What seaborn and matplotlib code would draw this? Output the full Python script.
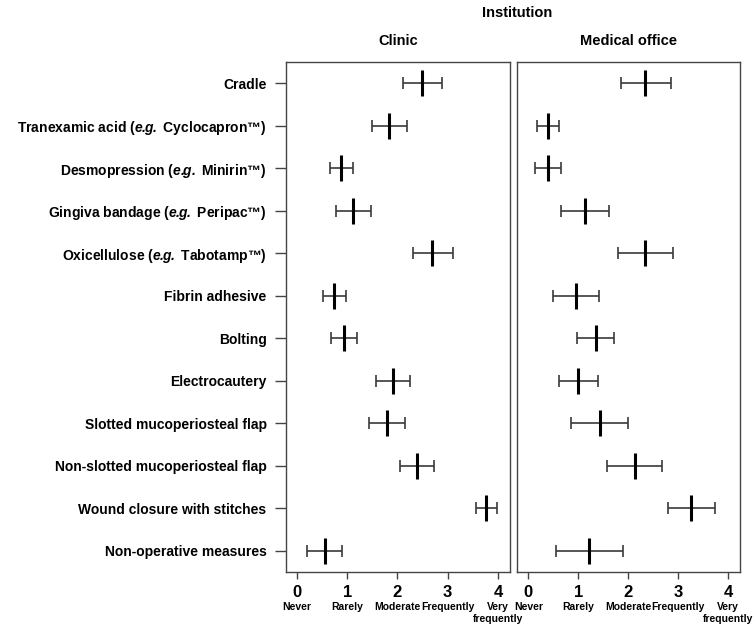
import matplotlib
matplotlib.use("Agg")
import matplotlib.pyplot as plt
import seaborn as sns
import pandas as pd
import numpy as np

# Data (mean and interval per measure)
measures = [
    "Cradle",
    r"Tranexamic acid ($\mathbfit{e.\!\!g.}$ Cyclocapron™)",
    r"Desmopression ($\mathbfit{e.\!\!g.}$ Minirin™)",
    r"Gingiva bandage ($\mathbfit{e.\!\!g.}$ Peripac™)",
    r"Oxicellulose ($\mathbfit{e.\!\!g.}$ Tabotamp™)",
    "Fibrin adhesive",
    "Bolting",
    "Electrocautery",
    "Slotted mucoperiosteal flap",
    "Non-slotted mucoperiosteal flap",
    "Wound closure with stitches",
    "Non-operative measures",
]

clinic_mean = [2.49, 1.84, 0.88, 1.12, 2.69, 0.74, 0.93, 1.92, 1.79, 2.39, 3.77, 0.55]
clinic_low = [2.10, 1.49, 0.65, 0.77, 2.30, 0.51, 0.68, 1.57, 1.44, 2.04, 3.57, 0.20]
clinic_high = [2.88, 2.18, 1.12, 1.47, 3.10, 0.97, 1.19, 2.25, 2.14, 2.73, 3.98, 0.90]

office_mean = [2.34, 0.39, 0.39, 1.13, 2.34, 0.96, 1.35, 1.00, 1.43, 2.13, 3.26, 1.21]
office_low = [1.85, 0.17, 0.13, 0.65, 1.80, 0.49, 0.98, 0.61, 0.86, 1.58, 2.80, 0.55]
office_high = [2.85, 0.61, 0.65, 1.61, 2.90, 1.41, 1.71, 1.39, 2.00, 2.68, 3.73, 1.89]

tick_values = [0, 1, 2, 3, 4]
tick_words = ["Never", "Rarely", "Moderate", "Frequently", "Very"]

sns.set_theme(style="white")
plt.rcParams["font.family"] = ["Liberation Sans", "DejaVu Sans"]
plt.rcParams["text.color"] = "black"
plt.rcParams["xtick.color"] = "black"
plt.rcParams["ytick.color"] = "black"
plt.rcParams["mathtext.fontset"] = "custom"
plt.rcParams["mathtext.rm"] = "Liberation Sans:bold"
plt.rcParams["mathtext.bf"] = "Liberation Sans:bold"
plt.rcParams["mathtext.bfit"] = "Liberation Sans:bold:italic"
plt.rcParams["mathtext.it"] = "Liberation Sans:italic"

fig = plt.figure(figsize=(7.56, 6.38), dpi=100)
ax1 = fig.add_axes([0.3783, 0.1034, 0.2963, 0.7994])
ax2 = fig.add_axes([0.6843, 0.1034, 0.2946, 0.7994])

panels = [
    (ax1, "Clinic", clinic_mean, clinic_low, clinic_high),
    (ax2, "Medical office", office_mean, office_low, office_high),
]

for ax, name, mean, low, high in panels:
    df = pd.DataFrame({"measure": measures, "mean": mean, "low": low, "high": high})
    df["pos"] = np.arange(len(df))
    ax.errorbar(df["mean"], df["pos"],
                xerr=[df["mean"] - df["low"], df["high"] - df["mean"]],
                fmt="none", ecolor="#3a3a3a", elinewidth=1.2, capsize=4, capthick=1.2)
    sns.scatterplot(data=df, x="mean", y="pos", marker="|", s=330, linewidth=2.2,
                    color="black", ax=ax, zorder=3, legend=False)
    ax.set_xlim(-0.22, 4.24)
    ax.set_ylim(11.5, -0.5)
    ax.set_xlabel("")
    ax.set_ylabel("")
    ax.set_title(name, fontsize=10.5, fontweight="bold", pad=12)
    ax.set_xticks(tick_values)
    ax.set_xticklabels([str(v) for v in tick_values], fontsize=12, fontweight="bold")
    ax.tick_params(axis="x", bottom=True, length=5, width=1, color="#444444", pad=4)
    for v, w in zip(tick_values, tick_words):
        ax.text(v, -0.058, w, transform=ax.get_xaxis_transform(), ha="center", va="top",
                fontsize=7.5, fontweight="bold")
    ax.text(4, -0.082, "frequently", transform=ax.get_xaxis_transform(), ha="center", va="top",
            fontsize=7.5, fontweight="bold")
    for s in ax.spines.values():
        s.set_color("#444444")
        s.set_linewidth(1)

ax1.set_yticks(np.arange(len(measures)))
ax1.set_yticklabels(measures, fontsize=10, fontweight="bold")
ax1.tick_params(axis="y", left=True, length=8, width=1, color="#444444", pad=6)
ax2.set_yticks([])

fig.text(0.6843, 0.98, "Institution", ha="center", va="center", fontsize=10.5, fontweight="bold")

fig.savefig("out.png", dpi=100)
